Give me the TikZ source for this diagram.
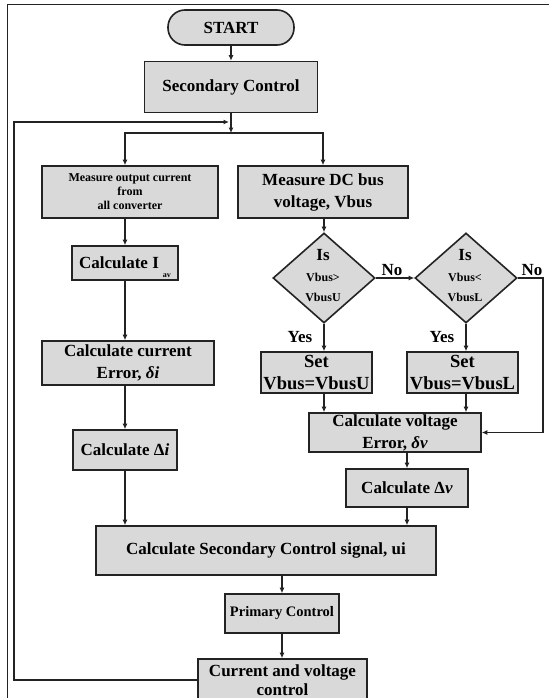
\documentclass[tikz,border=0pt]{standalone}
\usepackage{fontspec}
\setmainfont{Liberation Serif}
\usetikzlibrary{
	arrows.meta,
	shapes.geometric,
	positioning
}
\definecolor{BoxGray}{RGB}{217,217,217}
\definecolor{LineGray}{RGB}{35,35,35}

\begin{document}
\begin{tikzpicture}[x=1pt, y=-1pt,
		box/.style={draw=LineGray, line width=1.6pt, fill=BoxGray, inner sep=0pt, align=center,
			font=\bfseries\fontsize{17}{22}\selectfont},
		decbox/.style={draw=LineGray, line width=1.6pt, fill=BoxGray, diamond, inner sep=0pt},
		dectext/.style={inner sep=0pt, align=center, font=\bfseries\fontsize{12}{20}\selectfont},
		flow/.style={draw=LineGray, line width=1.4pt, -{Latex[length=5.5pt,width=5pt]}},
		lbl/.style={inner sep=0pt, font=\bfseries\fontsize{17}{20}\selectfont}]
		\useasboundingbox (0,0) rectangle (549,698);
		\clip (0,0) rectangle (549,698);
		
		% 外框
		\draw[LineGray, line width=1pt] (7,698) -- (7,5) -- (549,5);
		
		% 顶部
		\node[box, rounded corners=17pt, minimum width=126pt, minimum height=35pt] (start) at (231,27.5) {START};
		\node[box, minimum width=173pt, minimum height=51pt] (sec) at (231,87) {Secondary Control};
		
		% 左列：电流
		\node[box, minimum width=176pt, minimum height=52pt, font=\bfseries\fontsize{12}{14}\selectfont] (measI) at (130,192) {Measure output current\\from\\all converter};
		\node[box, minimum width=106pt, minimum height=34pt] (iav) at (125,263) {Calculate I\hspace{4pt}\smash{\raisebox{-9pt}{\fontsize{8}{8}\selectfont av}}};
		\node[box, minimum width=172pt, minimum height=44pt] (ierr) at (128,363) {Calculate current\\Error, \textit{δi}};
		\node[box, minimum width=104pt, minimum height=40pt] (di) at (125,450) {Calculate Δ\textit{i}};
		
		% 右列：电压
		\node[box, minimum width=170pt, minimum height=52pt] (measV) at (323,192) {Measure DC bus\\voltage, Vbus};
		\node[decbox, minimum width=102pt, minimum height=90pt] (decU) at (324,278) {};
		\node[dectext] (qU) at (323,276) {{\fontsize{17}{20}\selectfont Is}\\[1pt]Vbus>\\VbusU};
		\node[decbox, minimum width=102pt, minimum height=90pt] (decL) at (466,278) {};
		\node[dectext] (qL) at (465,276) {{\fontsize{17}{20}\selectfont Is}\\[1pt]Vbus<\\VbusL};
		\node[box, minimum width=111pt, minimum height=41pt, font=\bfseries\fontsize{18.5}{22}\selectfont] (setU) at (316.5,372.5) {Set\\Vbus=VbusU};
		\node[box, minimum width=111pt, minimum height=41pt, font=\bfseries\fontsize{18.5}{22}\selectfont] (setL) at (462.5,372.5) {Set\\Vbus=VbusL};
		\node[box, minimum width=172pt, minimum height=39pt] (verr) at (395,432.5) {Calculate voltage\\Error, \textit{δv}};
		\node[box, minimum width=122pt, minimum height=38pt] (dv) at (407,488) {Calculate Δ\textit{v}};
		
		% 底部
		\node[box, minimum width=340pt, minimum height=49pt] (sig) at (266,550.5) {Calculate Secondary Control signal, ui};
		\node[box, minimum width=114pt, minimum height=39pt, font=\bfseries\fontsize{14.5}{18}\selectfont] (prim) at (282,613.5) {Primary Control};
		\node[box, minimum width=169pt, minimum height=42pt, font=\bfseries\fontsize{17}{19.5}\selectfont] (cv) at (282.5,680) {Current and voltage\\control};
		
		% 标签
		\node[lbl] (noU) at (392,270) {No};
		\node[lbl] (noL) at (532,270) {No};
		\node[lbl] (yesU) at (300,337) {Yes};
		\node[lbl] (yesL) at (442,337) {Yes};
		
		% 连线
		\coordinate (split) at (231,133);
		\coordinate (loopL) at (14,122);
		\coordinate (loopE) at (229,122);
		\coordinate (rtC) at (543,278);
		
		\draw[flow] (start.south) -- (sec.north);
		\draw[flow] (sec.south) -- (split);
		\draw[flow] (split) -| (measI.north -| iav.north);
		\draw[flow] (split) -| (measV.north);
		
		\draw[flow] (measI.south -| iav.north) -- (iav.north);
		\draw[flow] (iav.south) -- (iav.south |- ierr.north);
		\draw[flow] (ierr.south -| di.north) -- (di.north);
		\draw[flow] (di.south) -- (di.south |- sig.north);
		
		\draw[flow] (measV.south -| decU.north) -- (decU.north);
		\draw[flow] (decU.east) -- (decL.west);
		\draw[flow] (decL.east) -- (rtC) |- (verr.east);
		\draw[flow] (decU.south) -- (decU.south |- setU.north);
		\draw[flow] (decL.south) -- (decL.south |- setL.north);
		\draw[flow] (setU.south -| decU.south) -- (decU.south |- verr.north);
		\draw[flow] (setL.south -| decL.south) -- (decL.south |- verr.north);
		\draw[flow] (verr.south -| dv.north) -- (dv.north);
		\draw[flow] (dv.south) -- (dv.south |- sig.north);
		
		\draw[flow] (sig.south -| prim.north) -- (prim.north);
		\draw[flow] (prim.south) -- (prim.south |- cv.north);
		\draw[flow] (cv.west) -| (loopL) -- (loopE);
	\end{tikzpicture}
\end{document}
